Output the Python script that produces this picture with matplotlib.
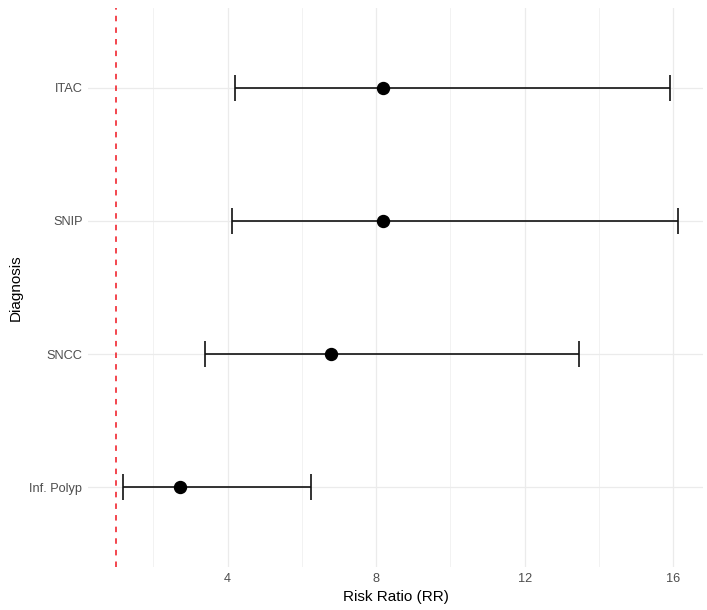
import matplotlib
matplotlib.use("Agg")
import matplotlib.pyplot as plt
from matplotlib.ticker import FixedLocator

diagnosis = ["Inf. Polyp", "SNCC", "SNIP", "ITAC"]
rr = [2.72, 6.79, 8.18, 8.17]
lower = [1.18, 3.40, 4.12, 4.19]
upper = [6.24, 13.47, 16.13, 15.90]
ref_line = 1.0
x_major = [4, 8, 12, 16]
x_minor = [2, 6, 10, 14]

plt.rcParams['font.family'] = ['Liberation Sans', 'DejaVu Sans']

fig = plt.figure(figsize=(7.07, 6.10), dpi=100)
ax = fig.add_axes([88/707, 1 - 567/610, (703-88)/707, (567-8)/610])

ypos = list(range(len(diagnosis)))
err_lo = [r - l for r, l in zip(rr, lower)]
err_hi = [u - r for r, u in zip(rr, upper)]

ax.errorbar(rr, ypos, xerr=[err_lo, err_hi], fmt='none', ecolor='#111111',
            elinewidth=1.2, capsize=9.4, capthick=1.2, zorder=3)
ax.plot(rr, ypos, 'o', color='black', markersize=8.6, zorder=4)
ax.axvline(ref_line, color='#F0141E', linewidth=1.1, linestyle=(0, (3.6, 4.0)), zorder=2)

ax.set_xlim(0.24, 16.8)
ax.set_ylim(-0.6, len(diagnosis) - 1 + 0.6)
ax.xaxis.set_major_locator(FixedLocator(x_major))
ax.xaxis.set_minor_locator(FixedLocator(x_minor))
ax.set_xticklabels([str(v) for v in x_major])
ax.set_yticks(ypos)
ax.set_yticklabels(diagnosis)

ax.grid(which='major', axis='both', color='#EBEBEB', linewidth=0.9, zorder=0)
ax.grid(which='minor', axis='x', color='#F0F0F0', linewidth=0.6, zorder=0)
ax.set_axisbelow(True)
for s in ax.spines.values():
    s.set_visible(False)
ax.tick_params(which='both', length=0)
ax.tick_params(axis='both', labelsize=9.2, labelcolor='#4D4D4D', pad=4)

ax.set_xlabel("Risk Ratio (RR)", fontsize=11, color='black', labelpad=4)
ax.set_ylabel("Diagnosis", fontsize=11, color='black', labelpad=5)

fig.savefig("out.png", dpi=100, facecolor='white')
